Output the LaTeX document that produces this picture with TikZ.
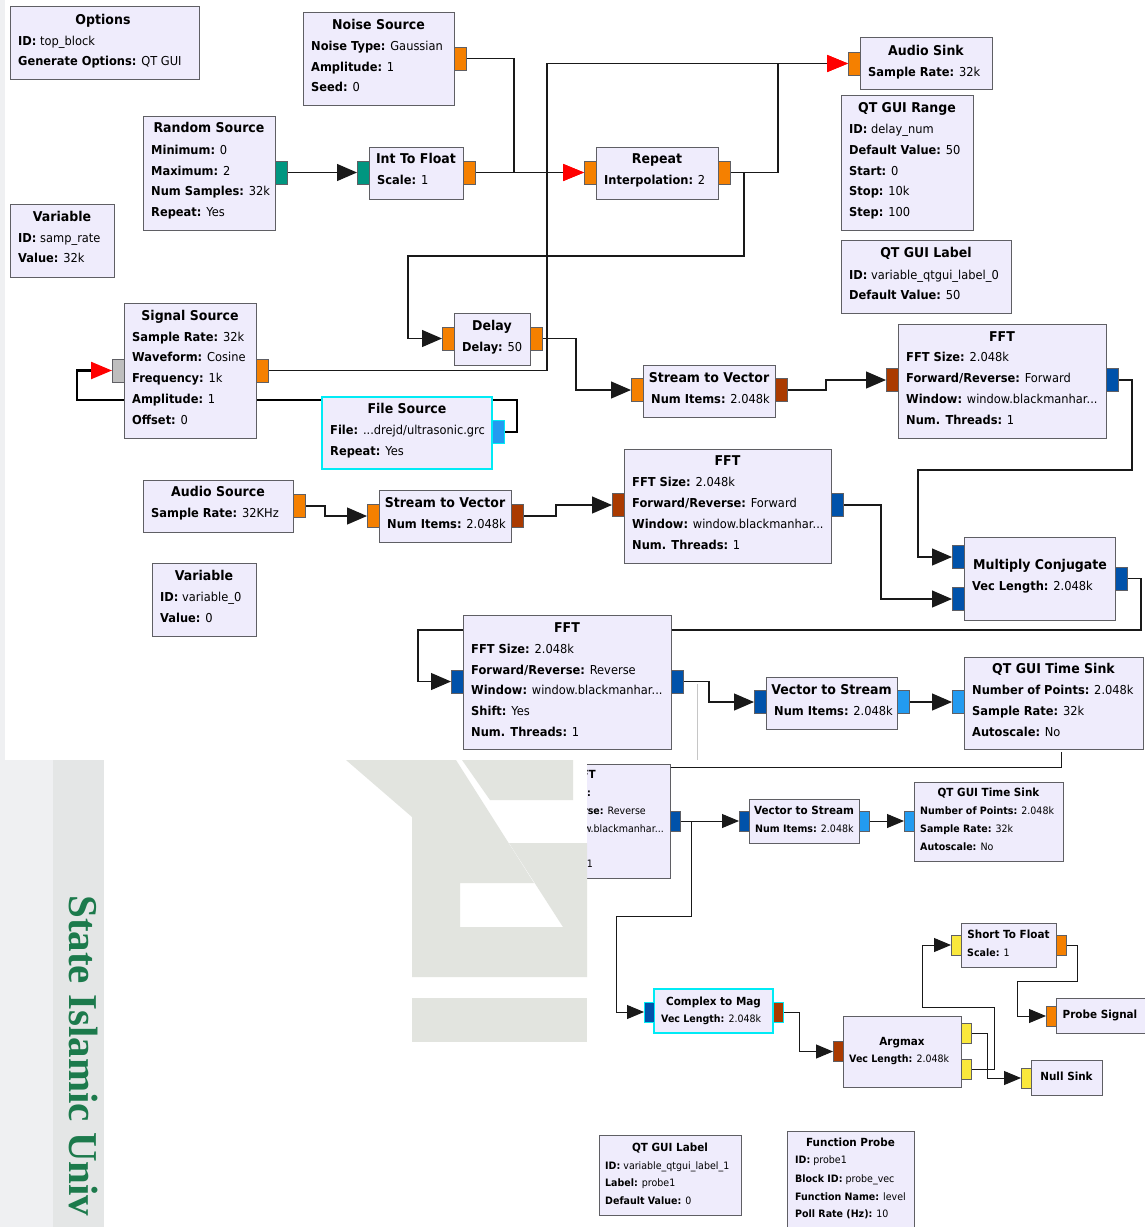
\documentclass[tikz,border=0pt]{standalone}
\usepackage{fontspec}
\setmainfont{DejaVu Sans}[FakeStretch=0.93]
\newfontfamily\pagefont{Liberation Serif}
\usetikzlibrary{arrows.meta}
\definecolor{blkfill}{RGB}{239,236,252}
\definecolor{blkline}{RGB}{95,95,100}
\definecolor{selcol}{RGB}{0,235,245}
\definecolor{wirecol}{RGB}{25,25,25}
\definecolor{pfloat}{RGB}{245,128,0}
\definecolor{pint}{RGB}{0,150,128}
\definecolor{pcvec}{RGB}{0,82,170}
\definecolor{pcplx}{RGB}{35,155,240}
\definecolor{pfvec}{RGB}{170,58,0}
\definecolor{pshort}{RGB}{250,232,60}
\definecolor{pmsg}{RGB}{190,190,190}
\definecolor{tipred}{RGB}{255,0,0}
\definecolor{stripA}{RGB}{239,240,242}
\definecolor{stripB}{RGB}{228,230,230}
\definecolor{wmgrey}{RGB}{226,228,223}
\definecolor{uingreen}{RGB}{28,122,76}
\pgfdeclarelayer{paper}\pgfdeclarelayer{wires}\pgfsetlayers{paper,wires,main}
\newcounter{tn}
% block body: name from corners x1,y1,x2,y2
\newcommand\blk[6][]{\node[blkst,#1,minimum width={#4-#2},minimum height={#5-#3}] (#6) at ({(#2+#4)/2},{(#3+#5)/2}) {};}
% port: [style]{name}{colour}{centre}
\newcommand\prt[4][tport]{\node[#1,fill=#3] (#2) at (#4) {};}
% block title and key/value rows
\newcommand\ttl[4][ttlst]{\stepcounter{tn}\node[#1] (t\arabic{tn}) at (#2,#3) {#4};}
\newcommand\kv[5][rowst]{\stepcounter{tn}\node[#1] (t\arabic{tn}) at (#2,#3) {\textbf{#4} #5};}
\tikzset{
  blkst/.style={draw=blkline,fill=blkfill,line width=0.9pt,inner sep=0,outer sep=0},
  sel/.style={draw=selcol,line width=1.2pt},
  tport/.style={draw=blkline,line width=0.7pt,minimum width=12pt,minimum height=23pt,inner sep=0,outer sep=0},
  bport/.style={draw=blkline,line width=0.6pt,minimum width=10pt,minimum height=20pt,inner sep=0,outer sep=0},
  ttlst/.style={inner sep=0,text height=10pt,text depth=2.5pt,font=\fontsize{13.5}{16}\selectfont\bfseries},
  rowst/.style={anchor=west,inner sep=0,text height=9.5pt,text depth=2.5pt,font=\fontsize{12.3}{14}\selectfont},
  bttl/.style={inner sep=0,text height=8.5pt,text depth=2pt,font=\fontsize{11.2}{13}\selectfont\bfseries},
  brow/.style={anchor=west,inner sep=0,text height=8pt,text depth=2pt,font=\fontsize{10.2}{12}\selectfont},
  browe/.style={anchor=east,inner sep=0,text height=8pt,text depth=2pt,font=\fontsize{10.2}{12}\selectfont},
  bttle/.style={anchor=east,inner sep=0,text height=8.5pt,text depth=2pt,font=\fontsize{11.2}{13}\selectfont\bfseries},
  wire/.style={draw=wirecol,line width=1.2pt},
  bwire/.style={draw=wirecol,line width=1pt},
  msg/.style={draw=black,line width=2.3pt},
  tipk/.style={-{Triangle[length=20pt,width=17pt]}},
  tipr/.style={-{Triangle[length=21pt,width=17pt,color=tipred]}},
  btip/.style={-{Triangle[length=17pt,width=14pt]}},
}
\begin{document}
\begin{tikzpicture}[x=1pt,y=-1pt]
\useasboundingbox (0,0) rectangle (1145,1227);
\begin{pgfonlayer}{paper}
  \fill[white] (0,0) rectangle (1145,1227);
  \fill[stripA] (0,0) rectangle (5,760);
\end{pgfonlayer}

% ---------------- upper flowgraph ----------------
\blk{10}{6}{199}{79}{opt}
\ttl{103}{21}{Options}
\kv{18}{42}{ID:}{top\_block}
\kv{18}{62}{Generate Options:}{QT GUI}

\blk{303}{12}{454}{105}{nsrc}
\ttl{378.5}{26}{Noise Source}
\kv{311}{47}{Noise Type:}{Gaussian}
\kv{311}{68}{Amplitude:}{1}
\kv{311}{88}{Seed:}{0}
\prt{nsrc-o}{pfloat}{460,58.5}

\blk{143}{116}{275}{230}{rsrc}
\ttl{209}{129}{Random Source}
\kv{151}{151}{Minimum:}{0}
\kv{151}{172}{Maximum:}{2}
\kv{151}{192}{Num Samples:}{32k}
\kv{151}{213}{Repeat:}{Yes}
\prt{rsrc-o}{pint}{281,172.5}

\blk{10}{204}{114}{277}{var1}
\ttl{62}{218}{Variable}
\kv{18}{239}{ID:}{samp\_rate}
\kv{18}{259}{Value:}{32k}

\blk{369}{147}{463}{199}{itf}
\ttl{416}{160}{Int To Float}
\kv{377}{181}{Scale:}{1}
\prt{itf-i}{pint}{363,172.5}
\prt{itf-o}{pfloat}{469,172.5}

\blk{596}{147}{718}{199}{rep}
\ttl{657}{160}{Repeat}
\kv{604}{181}{Interpolation:}{2}
\prt{rep-i}{pfloat}{590,172.5}
\prt{rep-o}{pfloat}{724,172.5}

\blk{860}{37}{992}{89}{asnk}
\ttl{926}{52}{Audio Sink}
\kv{868}{73}{Sample Rate:}{32k}
\prt{asnk-i}{pfloat}{854,63.5}

\blk{841}{95}{973}{230}{rng}
\ttl{907}{109}{QT GUI Range}
\kv{849}{130}{ID:}{delay\_num}
\kv{849}{151}{Default Value:}{50}
\kv{849}{172}{Start:}{0}
\kv{849}{192}{Stop:}{10k}
\kv{849}{213}{Step:}{100}

\blk{841}{240}{1011}{313}{lbl0}
\ttl{926}{254}{QT GUI Label}
\kv{849}{276}{ID:}{variable\_qtgui\_label\_0}
\kv{849}{296}{Default Value:}{50}

\blk{124}{303}{256}{438}{sig}
\ttl{190}{317}{Signal Source}
\kv{132}{338}{Sample Rate:}{32k}
\kv{132}{358}{Waveform:}{Cosine}
\kv{132}{379}{Frequency:}{1k}
\kv{132}{400}{Amplitude:}{1}
\kv{132}{421}{Offset:}{0}
\prt{sig-i}{pmsg}{118,370.5}
\prt{sig-o}{pfloat}{262,370.5}

\blk{454}{313}{530}{365}{dly}
\ttl{492}{327}{Delay}
\kv{462}{348}{Delay:}{50}
\prt{dly-i}{pfloat}{448,338.5}
\prt{dly-o}{pfloat}{536,338.5}

\blk[sel]{322}{397}{492}{469}{fsrc}
\ttl{407}{410}{File Source}
\kv{330}{431}{File:}{...drejd/ultrasonic.grc}
\kv{330}{452}{Repeat:}{Yes}
\prt[tport,draw=selcol]{fsrc-o}{pcplx}{498,432}

\blk{643}{365}{775}{417}{stv1}
\ttl{709}{379}{Stream to Vector}
\kv{651}{400}{Num Items:}{2.048k}
\prt{stv1-i}{pfloat}{637,390}
\prt{stv1-o}{pfvec}{781,390}

\blk{898}{324}{1106}{438}{fft1}
\ttl{1002}{338}{FFT}
\kv{906}{358}{FFT Size:}{2.048k}
\kv{906}{379}{Forward/Reverse:}{Forward}
\kv{906}{400}{Window:}{window.blackmanhar...}
\kv{906}{421}{Num. Threads:}{1}
\prt{fft1-i}{pfvec}{892,380}
\prt{fft1-o}{pcvec}{1112,380}

\blk{143}{480}{293}{532}{asrc}
\ttl{218}{493}{Audio Source}
\kv{151}{514}{Sample Rate:}{32KHz}
\prt{asrc-o}{pfloat}{299,506}

\blk{379}{490}{511}{542}{stv2}
\ttl{445}{504}{Stream to Vector}
\kv{387}{525}{Num Items:}{2.048k}
\prt{stv2-i}{pfloat}{373,516}
\prt{stv2-o}{pfvec}{517,516}

\blk{624}{449}{831}{563}{fft2}
\ttl{727.5}{462}{FFT}
\kv{632}{483}{FFT Size:}{2.048k}
\kv{632}{504}{Forward/Reverse:}{Forward}
\kv{632}{525}{Window:}{window.blackmanhar...}
\kv{632}{546}{Num. Threads:}{1}
\prt{fft2-i}{pfvec}{618,505}
\prt{fft2-o}{pcvec}{837,505}

\blk{152}{563}{256}{636}{var2}
\ttl{204}{577}{Variable}
\kv{160}{598}{ID:}{variable\_0}
\kv{160}{619}{Value:}{0}

\blk{964}{537}{1115}{620}{mcj}
\ttl{1040}{566}{Multiply Conjugate}
\kv{972}{587}{Vec Length:}{2.048k}
\prt{mcj-i1}{pcvec}{958,557}
\prt{mcj-i2}{pcvec}{958,599}
\prt{mcj-o}{pcvec}{1121,578.5}

\blk{463}{615}{671}{749}{fft3}
\ttl{567}{629}{FFT}
\kv{471}{650}{FFT Size:}{2.048k}
\kv{471}{671}{Forward/Reverse:}{Reverse}
\kv{471}{691}{Window:}{window.blackmanhar...}
\kv{471}{712}{Shift:}{Yes}
\kv{471}{733}{Num. Threads:}{1}
\prt{fft3-i}{pcvec}{457,681.5}
\prt{fft3-o}{pcvec}{677,681.5}

\blk{766}{677}{897}{729}{v2s}
\ttl{831.5}{691}{Vector to Stream}
\kv{774}{712}{Num Items:}{2.048k}
\prt{v2s-i}{pcvec}{760,702}
\prt{v2s-o}{pcplx}{903,702}

\blk{964}{657}{1143}{749}{tsk}
\ttl{1053.5}{670}{QT GUI Time Sink}
\kv{972}{691}{Number of Points:}{2.048k}
\kv{972}{712}{Sample Rate:}{32k}
\kv{972}{733}{Autoscale:}{No}
\prt{tsk-i}{pcplx}{958,702}

% ---------------- lower flowgraph ----------------
\blk{490}{764}{670}{878}{bfft}
\ttl[bttle]{596}{775}{FFT}
\kv[browe]{591}{793}{FFT Size:}{}
\kv[browe]{646}{811}{Forward/Reverse:}{Reverse}
\kv[browe]{664}{829}{Window:}{window.blackmanhar...}
\kv[browe]{593}{864}{Num. Threads:}{1}
\prt[bport]{bfft-o}{pcvec}{675,821}

\blk{749}{799}{859}{843}{bv2s}
\ttl[bttl]{804}{811}{Vector to Stream}
\kv[brow]{755}{829}{Num Items:}{2.048k}
\prt[bport]{bv2s-i}{pcvec}{744,821}
\prt[bport]{bv2s-o}{pcplx}{864,821}

\blk{914}{782}{1063}{861}{btsk}
\ttl[bttl]{988.5}{793}{QT GUI Time Sink}
\kv[brow]{920}{811}{Number of Points:}{2.048k}
\kv[brow]{920}{829}{Sample Rate:}{32k}
\kv[brow]{920}{847}{Autoscale:}{No}
\prt[bport]{btsk-i}{pcplx}{909,821}

\blk[sel]{654}{989}{773}{1033}{c2m}
\ttl[bttl]{713.5}{1002}{Complex to Mag}
\kv[brow]{661}{1019}{Vec Length:}{2.048k}
\prt[bport,draw=selcol]{c2m-i}{pcvec}{649,1012}
\prt[bport,draw=selcol]{c2m-o}{pfvec}{778,1012}

\blk{843}{1016}{961}{1087}{amax}
\ttl[bttl]{902}{1042}{Argmax}
\kv[brow]{849}{1059}{Vec Length:}{2.048k}
\prt[bport]{amax-i}{pfvec}{838,1051.5}
\prt[bport]{amax-o1}{pshort}{966,1033}
\prt[bport]{amax-o2}{pshort}{966,1069}

\blk{961}{923}{1056}{967}{s2f}
\ttl[bttl]{1008.5}{935}{Short To Float}
\kv[brow]{967}{953}{Scale:}{1}
\prt[bport]{s2f-i}{pshort}{956,945}
\prt[bport]{s2f-o}{pfloat}{1061,945}

\blk{1056}{998}{1150}{1033}{prb}
\ttl[bttl]{1100}{1015}{Probe Signal}
\prt[bport]{prb-i}{pfloat}{1051,1016}

\blk{1031}{1060}{1102}{1095}{nsk}
\ttl[bttl]{1066.5}{1077}{Null Sink}
\prt[bport]{nsk-i}{pshort}{1026,1078}

\blk{599}{1135}{741}{1215}{lbl1}
\ttl[bttl]{670}{1148}{QT GUI Label}
\kv[brow]{605}{1166}{ID:}{variable\_qtgui\_label\_1}
\kv[brow]{605}{1183}{Label:}{probe1}
\kv[brow]{605}{1201}{Default Value:}{0}

\blk{787}{1131}{914}{1240}{fprb}
\ttl[bttl]{850.5}{1143}{Function Probe}
\kv[brow]{795}{1160}{ID:}{probe1}
\kv[brow]{795}{1179}{Block ID:}{probe\_vec}
\kv[brow]{795}{1197}{Function Name:}{level}
\kv[brow]{795}{1214}{Poll Rate (Hz):}{10}

\coordinate (bm1) at (1061,752);
\coordinate (bm2) at (587,767);

% ---------------- connections ----------------
\begin{pgfonlayer}{wires}
  \draw[wire,tipk] (rsrc-o.east) -- (itf-i.west);
  \draw[wire,tipr] (nsrc-o.east) -- (514,58.5) -- (514,172.5) -- (rep-i.west);
  \draw[wire,tipr] (itf-o.east) -- (rep-i.west);
  \draw[wire,tipr] (rep-o.east) -- (778,172.5) -- (778,63.5) -- (asnk-i.west);
  \draw[wire,tipr] (sig-o.east) -- (547,370.5) -- (547,63.5) -- (asnk-i.west);
  \draw[wire,tipk] (rep-o.east) -- (744,172.5) -- (744,256) -- (408,256) -- (408,338.5) -- (dly-i.west);
  \draw[msg,tipr] (fsrc-o.east) -- (517,432) -- (517,400) -- (77,400) -- (77,370.5) -- (sig-i.west);
  \draw[wire,tipk] (dly-o.east) -- (576,338.5) -- (576,390) -- (stv1-i.west);
  \draw[wire,tipk] (stv1-o.east) -- (826,390) -- (826,380) -- (fft1-i.west);
  \draw[wire,tipk] (fft1-o.east) -- (1132,380) -- (1132,470) -- (918,470) -- (918,557) -- (mcj-i1.west);
  \draw[wire,tipk] (fft2-o.east) -- (881,505) -- (881,599) -- (mcj-i2.west);
  \draw[wire,tipk] (asrc-o.east) -- (325,506) -- (325,516) -- (stv2-i.west);
  \draw[wire,tipk] (stv2-o.east) -- (556,516) -- (556,505) -- (fft2-i.west);
  \draw[wire,tipk] (mcj-o.east) -- (1141,578.5) -- (1141,630) -- (418,630) -- (418,681.5) -- (fft3-i.west);
  \draw[wire,tipk] (fft3-o.east) -- (709,681.5) -- (709,702) -- (v2s-i.west);
  \draw[wire,tipk] (v2s-o.east) -- (tsk-i.west);
  \draw[gray!45,line width=0.6pt] (697,684) -- (697,760);
  % lower flowgraph
  \draw[bwire] (bm1) -- (1061,767) -- (bm2);
  \draw[bwire,btip] (bfft-o.east) -- (bv2s-i.west);
  \draw[bwire,btip] (bfft-o.east) -- (691,821) -- (691,916) -- (616,916) -- (616,1012) -- (c2m-i.west);
  \draw[bwire,btip] (bv2s-o.east) -- (btsk-i.west);
  \draw[bwire,btip] (c2m-o.east) -- (799,1012) -- (799,1051.5) -- (amax-i.west);
  \draw[bwire,btip] (amax-o1.east) -- (987,1033) -- (987,1078) -- (nsk-i.west);
  \draw[bwire,btip] (amax-o2.east) -- (994,1069) -- (994,1007) -- (922,1007) -- (922,945) -- (s2f-i.west);
  \draw[bwire,btip] (s2f-o.east) -- (1077,945) -- (1077,981) -- (1017,981) -- (1017,1016) -- (prb-i.west);
\end{pgfonlayer}

% ---------------- page margin with watermark ----------------
\fill[white] (0,760) rectangle (587,1227);
\fill[stripA] (0,760) rectangle (53,1227);
\fill[stripB] (53,760) rectangle (104,1227);
\fill[wmgrey] (346,760) -- (456,760) -- (534,883) -- (460,883) -- (460,927) -- (587,927) -- (587,977) -- (412,977) -- (412,817) -- cycle;
\fill[wmgrey] (509,843) -- (587,843) -- (587,927) -- (563,927) -- cycle;
\fill[wmgrey] (462,760) -- (573,760) -- (573,800) -- (490,800) -- cycle;
\fill[wmgrey] (412,998) rectangle (587,1042);
\node[rotate=-90,anchor=base west,inner sep=0,text=uingreen,font=\pagefont\bfseries\fontsize{41}{41}\selectfont] (uin) at (69,895) {State Islamic Univ};
\end{tikzpicture}
\end{document}
